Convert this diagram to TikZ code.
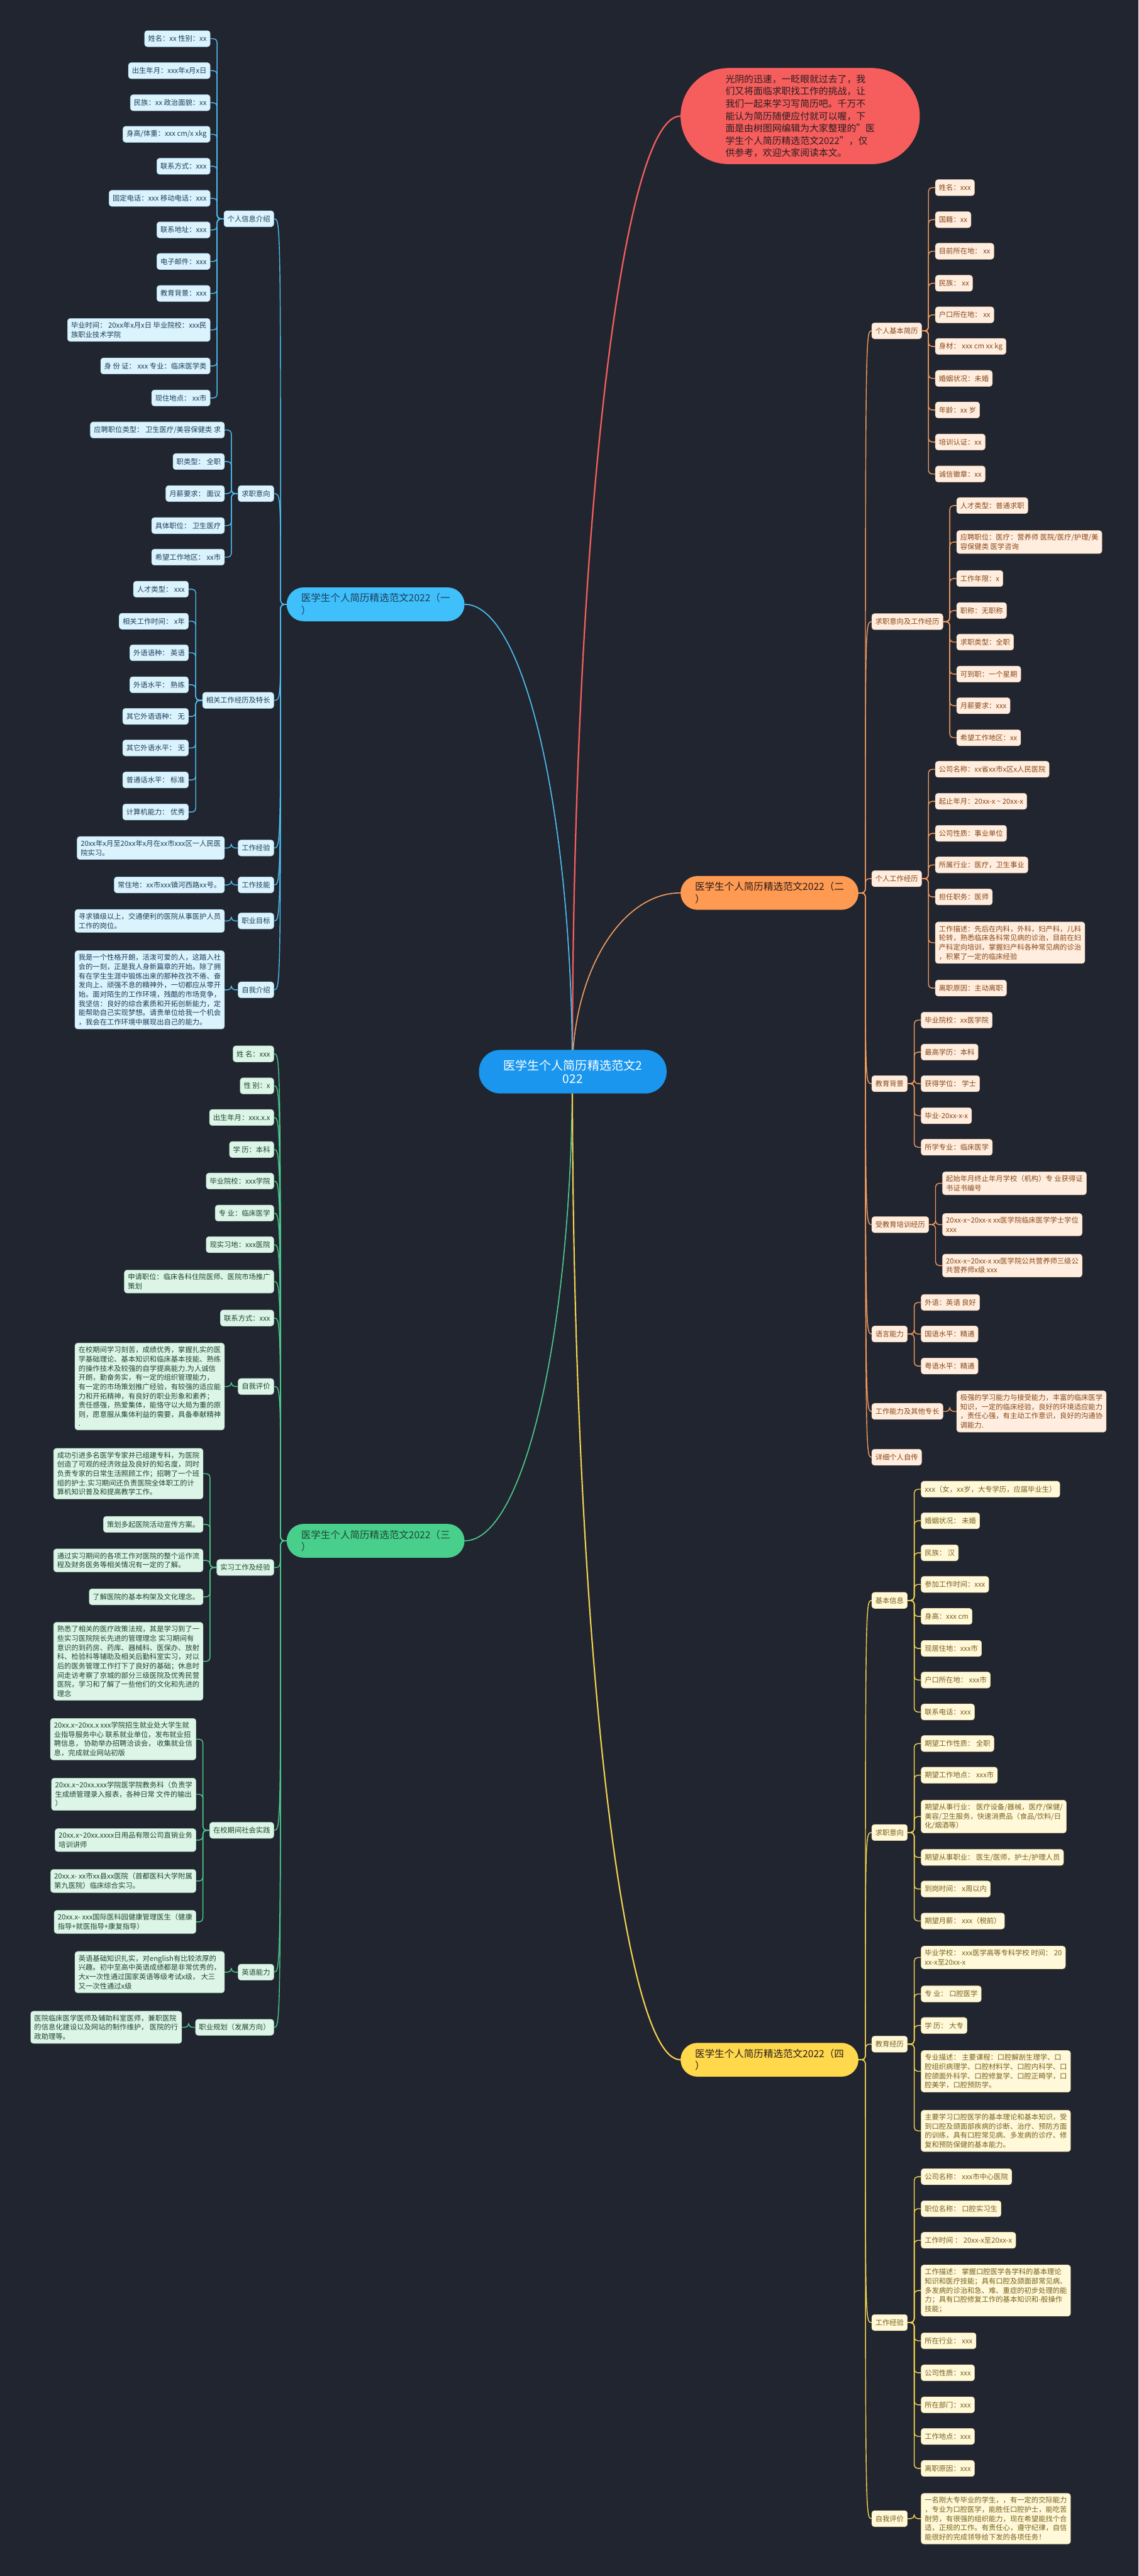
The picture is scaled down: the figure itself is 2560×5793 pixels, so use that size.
\documentclass[tikz,border=0pt]{standalone}
\usepackage{fontspec}
\setmainfont{Noto Sans CJK SC}
\usetikzlibrary{positioning}

\definecolor{bgnavy}{HTML}{21252F}
\definecolor{rootblue}{HTML}{1A96EF}
\definecolor{introred}{HTML}{F65E5E}
\definecolor{introtext}{HTML}{2A1C1C}
\definecolor{bluemain}{HTML}{3FC0FB}
\definecolor{blueline}{HTML}{4DBDF0}
\definecolor{bluefill}{HTML}{DBF3FD}
\definecolor{bluetext}{HTML}{1C3D5A}
\definecolor{greenmain}{HTML}{48CF8C}
\definecolor{greenline}{HTML}{4CC98C}
\definecolor{greenfill}{HTML}{DDF5E7}
\definecolor{greentext}{HTML}{1D4630}
\definecolor{orangemain}{HTML}{FF9A52}
\definecolor{orangeline}{HTML}{F29B5E}
\definecolor{orangefill}{HTML}{FFEEDF}
\definecolor{orangetext}{HTML}{8A4616}
\definecolor{yellowmain}{HTML}{FFD84B}
\definecolor{yellowline}{HTML}{F4D44E}
\definecolor{yellowfill}{HTML}{FFF8D9}
\definecolor{yellowtext}{HTML}{78621A}

\tikzset{
  leaf/.style={rounded corners=3pt, inner xsep=4pt, inner ysep=4pt,
    minimum height=18pt, align=left, line width=0.4pt,
    font=\fontsize{8}{10.35}\selectfont},
  bleaf/.style={leaf, fill=bluefill, draw=bluefill!70!blueline, text=bluetext},
  gleaf/.style={leaf, fill=greenfill, draw=greenfill!70!greenline, text=greentext},
  oleaf/.style={leaf, fill=orangefill, draw=orangefill!70!orangeline, text=orangetext},
  yleaf/.style={leaf, fill=yellowfill, draw=yellowfill!70!yellowline, text=yellowtext},
  branch/.style={rounded corners=19pt, minimum height=38pt, minimum width=200pt,
    align=left, font=\fontsize{11}{14}\selectfont},
  bline/.style={draw=blueline, line width=1pt, rounded corners=4pt},
  gline/.style={draw=greenline, line width=1pt, rounded corners=4pt},
  oline/.style={draw=orangeline, line width=1pt, rounded corners=4pt},
  yline/.style={draw=yellowline, line width=1pt, rounded corners=4pt},
}

% bracket from a topic to one of its leaves
\newcommand\hookl[3]{\draw[#1] (#2.west) -- ++(-15,0) |- (#3.east);}
\newcommand\hookr[3]{\draw[#1] (#2.east) -- ++(15,0) |- (#3.west);}
% curve from a branch to one of its topics
\newcommand\trunkl[4]{\draw[#1] (#2.west) -- (#3) .. controls (#3 |- #4.east) .. (#4.east);}
\newcommand\trunkr[4]{\draw[#1] (#2.east) -- (#3) .. controls (#3 |- #4.west) .. (#4.west);}

\begin{document}
\begin{tikzpicture}[x=0.5pt, y=-0.5pt]
  \fill[bgnavy] (0,0) rectangle (2560,5793);
  \useasboundingbox (0,0) rectangle (2560,5793);

  % intro bubble
  \node[rounded corners=54pt, minimum width=269pt, minimum height=108pt,
    fill=introred, text=introtext, align=left,
    font=\fontsize{10.5}{13.85}\selectfont, anchor=west] (intro) at (1530,261)
    {光阴的迅速，一眨眼就过去了，我\\们又将面临求职找工作的挑战，让\\我们一起来学习写简历吧。千万不\\能认为简历随便应付就可以喔，下\\面是由树图网编辑为大家整理的"医\\学生个人简历精选范文2022"，仅\\供参考，欢迎大家阅读本文。};

  % the four branches
  \node[branch, fill=bluemain, text=bluetext, anchor=east] (one) at (1045,1359) {医学生个人简历精选范文2022（一\\）};
  \node[branch, fill=orangemain, text=introtext, anchor=west] (two) at (1530,2008) {医学生个人简历精选范文2022（二\\）};
  \node[branch, fill=greenmain, text=greentext, anchor=east] (three) at (1045,3465) {医学生个人简历精选范文2022（三\\）};
  \node[branch, fill=yellowmain, text=introtext, anchor=west] (four) at (1530,4632) {医学生个人简历精选范文2022（四\\）};

  \coordinate (hub) at (1287,2410);
  \draw[introred, line width=1.6pt] (hub) .. controls (1287,1224) and (1396,261) .. (intro.west);
  \draw[blueline, line width=1.2pt] (hub) .. controls (1287,1830) and (1179,1359) .. (one.east);
  \draw[orangeline, line width=1.2pt] (hub) .. controls (1287,2188) and (1396,2008) .. (two.west);
  \draw[greenline, line width=1.2pt] (hub) .. controls (1287,2992) and (1179,3465) .. (three.east);
  \draw[yellowline, line width=1.5pt] (hub) .. controls (1287,3637) and (1396,4632) .. (four.west);

  \node[rounded corners=24pt, minimum width=211pt, minimum height=49pt,
    fill=rootblue, text=white, align=center,
    font=\fontsize{13.5}{14.5}\selectfont] (root) at (1288,2410) {医学生个人简历精选范文2\\022};

  % ---------- branch one ----------
  \coordinate (one-t) at (631,1359);
  \node[bleaf, anchor=east] (one-info) at (616,492) {个人信息介绍};
  \node[bleaf, anchor=east] (one-info-1) at (473,87) {姓名：xx 性别：xx};
  \node[bleaf, anchor=east] (one-info-2) at (473,159) {出生年月：xxx年x月x日};
  \node[bleaf, anchor=east] (one-info-3) at (473,231) {民族：xx 政治面貌：xx};
  \node[bleaf, anchor=east] (one-info-4) at (473,302) {身高/体重：xxx cm/x xkg};
  \node[bleaf, anchor=east] (one-info-5) at (473,374) {联系方式：xxx};
  \node[bleaf, anchor=east] (one-info-6) at (473,446) {固定电话：xxx 移动电话：xxx};
  \node[bleaf, anchor=east] (one-info-7) at (473,517) {联系地址：xxx};
  \node[bleaf, anchor=east] (one-info-8) at (473,588) {电子邮件：xxx};
  \node[bleaf, anchor=east] (one-info-9) at (473,660) {教育背景：xxx};
  \node[bleaf, anchor=east] (one-info-10) at (473,742) {毕业时间： 20xx年x月x日 毕业院校：xxx民\\族职业技术学院};
  \node[bleaf, anchor=east] (one-info-11) at (473,823) {身 份 证： xxx 专业：临床医学类};
  \node[bleaf, anchor=east] (one-info-12) at (473,895) {现住地点： xx市};
  \foreach \i in {1,...,12} {\hookl{bline}{one-info}{one-info-\i}}

  \node[bleaf, anchor=east] (one-job) at (616,1110) {求职意向};
  \node[bleaf, anchor=east] (one-job-1) at (505,967) {应聘职位类型： 卫生医疗/美容保健类 求};
  \node[bleaf, anchor=east] (one-job-2) at (505,1038) {职类型： 全职};
  \node[bleaf, anchor=east] (one-job-3) at (505,1110) {月薪要求： 面议};
  \node[bleaf, anchor=east] (one-job-4) at (505,1182) {具体职位： 卫生医疗};
  \node[bleaf, anchor=east] (one-job-5) at (505,1253) {希望工作地区： xx市};
  \foreach \i in {1,...,5} {\hookl{bline}{one-job}{one-job-\i}}

  \node[bleaf, anchor=east] (one-exp) at (616,1575) {相关工作经历及特长};
  \node[bleaf, anchor=east] (one-exp-1) at (424,1325) {人才类型： xxx};
  \node[bleaf, anchor=east] (one-exp-2) at (424,1397) {相关工作时间： x年};
  \node[bleaf, anchor=east] (one-exp-3) at (424,1468) {外语语种： 英语};
  \node[bleaf, anchor=east] (one-exp-4) at (424,1540) {外语水平： 熟练};
  \node[bleaf, anchor=east] (one-exp-5) at (424,1611) {其它外语语种： 无};
  \node[bleaf, anchor=east] (one-exp-6) at (424,1682) {其它外语水平： 无};
  \node[bleaf, anchor=east] (one-exp-7) at (424,1754) {普通话水平： 标准};
  \node[bleaf, anchor=east] (one-exp-8) at (424,1826) {计算机能力： 优秀};
  \foreach \i in {1,...,8} {\hookl{bline}{one-exp}{one-exp-\i}}

  \node[bleaf, anchor=east] (one-work) at (616,1907) {工作经验};
  \node[bleaf, anchor=east] (one-work-1) at (505,1907) {20xx年x月至20xx年x月在xx市xxx区一人民医\\院实习。};
  \hookl{bline}{one-work}{one-work-1}
  \node[bleaf, anchor=east] (one-skill) at (616,1990) {工作技能};
  \node[bleaf, anchor=east] (one-skill-1) at (505,1990) {常住地：xx市xxx镇河西路xx号。};
  \hookl{bline}{one-skill}{one-skill-1}
  \node[bleaf, anchor=east] (one-goal) at (616,2071) {职业目标};
  \node[bleaf, anchor=east] (one-goal-1) at (505,2071) {寻求镇级以上，交通便利的医院从事医护人员\\工作的岗位。};
  \hookl{bline}{one-goal}{one-goal-1}
  \node[bleaf, anchor=east] (one-self) at (616,2226) {自我介绍};
  \node[bleaf, anchor=east] (one-self-1) at (505,2226) {我是一个性格开朗，活泼可爱的人，这踏入社\\会的一刻，正是我人身新篇章的开始。除了拥\\有在学生生涯中锻炼出来的那种孜孜不倦、奋\\发向上、顽强不息的精神外，一切都应从零开\\始。面对陌生的工作环境，残酷的市场竞争，\\我坚信：良好的综合素质和开拓创新能力，定\\能帮助自己实现梦想。请贵单位给我一个机会\\，我会在工作环境中展现出自己的能力。};
  \hookl{bline}{one-self}{one-self-1}

  \foreach \c in {info,job,exp,work,skill,goal,self} {\trunkl{bline}{one}{one-t}{one-\c}}

  % ---------- branch two ----------
  \coordinate (two-t) at (1946,2008);
  \node[oleaf, anchor=west] (two-basic) at (1960,744) {个人基本简历};
  \node[oleaf, anchor=west] (two-basic-1) at (2103,422) {姓名：xxx};
  \node[oleaf, anchor=west] (two-basic-2) at (2103,494) {国籍：xx};
  \node[oleaf, anchor=west] (two-basic-3) at (2103,565) {目前所在地： xx};
  \node[oleaf, anchor=west] (two-basic-4) at (2103,637) {民族： xx};
  \node[oleaf, anchor=west] (two-basic-5) at (2103,708) {户口所在地： xx};
  \node[oleaf, anchor=west] (two-basic-6) at (2103,779) {身材： xxx cm xx kg};
  \node[oleaf, anchor=west] (two-basic-7) at (2103,851) {婚姻状况：未婚};
  \node[oleaf, anchor=west] (two-basic-8) at (2103,922) {年龄：xx 岁};
  \node[oleaf, anchor=west] (two-basic-9) at (2103,994) {培训认证：xx};
  \node[oleaf, anchor=west] (two-basic-10) at (2103,1066) {诚信徽章：xx};
  \foreach \i in {1,...,10} {\hookr{oline}{two-basic}{two-basic-\i}}

  \node[oleaf, anchor=west] (two-job) at (1960,1398) {求职意向及工作经历};
  \node[oleaf, anchor=west] (two-job-1) at (2151,1137) {人才类型：普通求职};
  \node[oleaf, anchor=west] (two-job-2) at (2151,1219) {应聘职位：医疗：营养师 医院/医疗/护理/美\\容保健类 医学咨询};
  \node[oleaf, anchor=west] (two-job-3) at (2151,1301) {工作年限：x};
  \node[oleaf, anchor=west] (two-job-4) at (2151,1373) {职称：无职称};
  \node[oleaf, anchor=west] (two-job-5) at (2151,1444) {求职类型：全职};
  \node[oleaf, anchor=west] (two-job-6) at (2151,1516) {可到职：一个星期};
  \node[oleaf, anchor=west] (two-job-7) at (2151,1587) {月薪要求：xxx};
  \node[oleaf, anchor=west] (two-job-8) at (2151,1659) {希望工作地区：xx};
  \foreach \i in {1,...,8} {\hookr{oline}{two-job}{two-job-\i}}

  \node[oleaf, anchor=west] (two-work) at (1960,1976) {个人工作经历};
  \node[oleaf, anchor=west] (two-work-1) at (2103,1730) {公司名称：xx省xx市x区x人民医院};
  \node[oleaf, anchor=west] (two-work-2) at (2103,1802) {起止年月：20xx-x \textasciitilde{} 20xx-x};
  \node[oleaf, anchor=west] (two-work-3) at (2103,1874) {公司性质：事业单位};
  \node[oleaf, anchor=west] (two-work-4) at (2103,1945) {所属行业：医疗，卫生事业};
  \node[oleaf, anchor=west] (two-work-5) at (2103,2017) {担任职务：医师};
  \node[oleaf, anchor=west] (two-work-6) at (2103,2120) {工作描述：先后在内科，外科，妇产科，儿科\\轮转，熟悉临床各科常见病的诊治，目前在妇\\产科定向培训，掌握妇产科各种常见病的诊治\\，积累了一定的临床经验};
  \node[oleaf, anchor=west] (two-work-7) at (2103,2222) {离职原因：主动离职};
  \foreach \i in {1,...,7} {\hookr{oline}{two-work}{two-work-\i}}

  \node[oleaf, anchor=west] (two-edu) at (1960,2437) {教育背景};
  \node[oleaf, anchor=west] (two-edu-1) at (2071,2294) {毕业院校：xx医学院};
  \node[oleaf, anchor=west] (two-edu-2) at (2071,2366) {最高学历：本科};
  \node[oleaf, anchor=west] (two-edu-3) at (2071,2437) {获得学位： 学士};
  \node[oleaf, anchor=west] (two-edu-4) at (2071,2509) {毕业-20xx-x-x};
  \node[oleaf, anchor=west] (two-edu-5) at (2071,2580) {所学专业：临床医学};
  \foreach \i in {1,...,5} {\hookr{oline}{two-edu}{two-edu-\i}}

  \node[oleaf, anchor=west] (two-train) at (1960,2754) {受教育培训经历};
  \node[oleaf, anchor=west] (two-train-1) at (2119,2661) {起始年月终止年月学校（机构）专 业获得证\\书证书编号};
  \node[oleaf, anchor=west] (two-train-2) at (2119,2754) {20xx-x\textasciitilde20xx-x xx医学院临床医学学士学位\\xxx};
  \node[oleaf, anchor=west] (two-train-3) at (2119,2846) {20xx-x\textasciitilde20xx-x xx医学院公共营养师三级公\\共营养师x级 xxx};
  \foreach \i in {1,...,3} {\hookr{oline}{two-train}{two-train-\i}}

  \node[oleaf, anchor=west] (two-lang) at (1960,3000) {语言能力};
  \node[oleaf, anchor=west] (two-lang-1) at (2071,2929) {外语：英语 良好};
  \node[oleaf, anchor=west] (two-lang-2) at (2071,3000) {国语水平：精通};
  \node[oleaf, anchor=west] (two-lang-3) at (2071,3072) {粤语水平：精通};
  \foreach \i in {1,...,3} {\hookr{oline}{two-lang}{two-lang-\i}}

  \node[oleaf, anchor=west] (two-ability) at (1960,3174) {工作能力及其他专长};
  \node[oleaf, anchor=west] (two-ability-1) at (2151,3174) {极强的学习能力与接受能力，丰富的临床医学\\知识，一定的临床经验，良好的环境适应能力\\，责任心强，有主动工作意识，良好的沟通协\\调能力.};
  \hookr{oline}{two-ability}{two-ability-1}

  \node[oleaf, anchor=west] (two-bio) at (1960,3277) {详细个人自传};

  \foreach \c in {basic,job,work,edu,train,lang,ability,bio} {\trunkr{oline}{two}{two-t}{two-\c}}

  % ---------- branch three ----------
  \coordinate (three-t) at (631,3465);
  \node[gleaf, anchor=east] (three-name) at (616,2370) {姓 名：xxx};
  \node[gleaf, anchor=east] (three-sex) at (616,2442) {性 别：x};
  \node[gleaf, anchor=east] (three-birth) at (616,2513) {出生年月：xxx.x.x};
  \node[gleaf, anchor=east] (three-degree) at (616,2585) {学 历：本科};
  \node[gleaf, anchor=east] (three-school) at (616,2656) {毕业院校：xxx学院};
  \node[gleaf, anchor=east] (three-major) at (616,2728) {专 业：临床医学};
  \node[gleaf, anchor=east] (three-place) at (616,2799) {现实习地：xxx医院};
  \node[gleaf, anchor=east] (three-apply) at (616,2882) {申请职位：临床各科住院医师、医院市场推广\\策划};
  \node[gleaf, anchor=east] (three-phone) at (616,2964) {联系方式：xxx};

  \node[gleaf, anchor=east] (three-self) at (616,3118) {自我评价};
  \node[gleaf, anchor=east] (three-self-1) at (505,3118) {在校期间学习刻苦，成绩优秀，掌握扎实的医\\学基础理论、基本知识和临床基本技能、熟练\\的操作技术及较强的自学提高能力.为人诚信\\开朗，勤奋务实，有一定的组织管理能力，\\有一定的市场策划推广经验，有较强的适应能\\力和开拓精神，有良好的职业形象和素养；\\责任感强，热爱集体，能恪守以大局为重的原\\则，愿意服从集体利益的需要，具备奉献精神\\.};
  \hookl{gline}{three-self}{three-self-1}

  \node[gleaf, anchor=east] (three-intern) at (616,3525) {实习工作及经验};
  \node[gleaf, anchor=east] (three-intern-1) at (457,3314) {成功引进多名医学专家并已组建专科，为医院\\创造了可观的经济效益及良好的知名度，同时\\负责专家的日常生活照顾工作；招聘了一个班\\组的护士.实习期间还负责医院全体职工的计\\算机知识普及和提高教学工作。};
  \node[gleaf, anchor=east] (three-intern-2) at (457,3428) {策划多起医院活动宣传方案。};
  \node[gleaf, anchor=east] (three-intern-3) at (457,3509) {通过实习期间的各项工作对医院的整个运作流\\程及财务医务等相关情况有一定的了解。};
  \node[gleaf, anchor=east] (three-intern-4) at (457,3591) {了解医院的基本构架及文化理念。};
  \node[gleaf, anchor=east] (three-intern-5) at (457,3736) {熟悉了相关的医疗政策法规，其是学习到了一\\些实习医院院长先进的管理理念 实习期间有\\意识的到药房、药库、器械科、医保办、放射\\科、检验科等辅助及相关后勤科室实习，对以\\后的医务管理工作打下了良好的基础；休息时\\间走访考察了京城的部分三级医院及优秀民营\\医院，学习和了解了一些他们的文化和先进的\\理念};
  \foreach \i in {1,...,5} {\hookl{gline}{three-intern}{three-intern-\i}}

  \node[gleaf, anchor=east] (three-campus) at (616,4116) {在校期间社会实践};
  \node[gleaf, anchor=east] (three-campus-1) at (441,3911) {20xx.x\textasciitilde20xx.x xxx学院招生就业处大学生就\\业指导服务中心 联系就业单位，发布就业招\\聘信息， 协助举办招聘洽谈会， 收集就业信\\息，完成就业网站初版};
  \node[gleaf, anchor=east] (three-campus-2) at (441,4035) {20xx.x\textasciitilde20xx.xxx学院医学院教务科（负责学\\生成绩管理录入报表，各种日常 文件的输出\\）};
  \node[gleaf, anchor=east] (three-campus-3) at (441,4138) {20xx.x\textasciitilde20xx.xxxx日用品有限公司直销业务\\培训讲师};
  \node[gleaf, anchor=east] (three-campus-4) at (441,4230) {20xx.x- xx市xx县xx医院（首都医科大学附属\\第九医院）临床综合实习。};
  \node[gleaf, anchor=east] (three-campus-5) at (441,4322) {20xx.x- xxx国际医科园健康管理医生（健康\\指导+就医指导+康复指导）};
  \foreach \i in {1,...,5} {\hookl{gline}{three-campus}{three-campus-\i}}

  \node[gleaf, anchor=east] (three-eng) at (616,4435) {英语能力};
  \node[gleaf, anchor=east] (three-eng-1) at (505,4435) {英语基础知识扎实，对english有比较浓厚的\\兴趣。初中至高中英语成绩都是非常优秀的，\\大x一次性通过国家英语等级考试x级， 大三\\又一次性通过x级};
  \hookl{gline}{three-eng}{three-eng-1}

  \node[gleaf, anchor=east] (three-plan) at (616,4559) {职业规划（发展方向）};
  \node[gleaf, anchor=east] (three-plan-1) at (409,4559) {医院临床医学医师及辅助科室医师，兼职医院\\的信息化建设以及网站的制作维护， 医院的行\\政助理等。};
  \hookl{gline}{three-plan}{three-plan-1}

  \foreach \c in {name,sex,birth,degree,school,major,place,apply,phone,self,intern,campus,eng,plan} {\trunkl{gline}{three}{three-t}{three-\c}}

  % ---------- branch four ----------
  \coordinate (four-t) at (1946,4632);
  \node[yleaf, anchor=west] (four-basic) at (1960,3599) {基本信息};
  \node[yleaf, anchor=west] (four-basic-1) at (2071,3349) {xxx（女，xx岁，大专学历，应届毕业生）};
  \node[yleaf, anchor=west] (four-basic-2) at (2071,3420) {婚姻状况： 未婚};
  \node[yleaf, anchor=west] (four-basic-3) at (2071,3492) {民族： 汉};
  \node[yleaf, anchor=west] (four-basic-4) at (2071,3563) {参加工作时间：xxx};
  \node[yleaf, anchor=west] (four-basic-5) at (2071,3635) {身高：xxx cm};
  \node[yleaf, anchor=west] (four-basic-6) at (2071,3707) {现居住地：xxx市};
  \node[yleaf, anchor=west] (four-basic-7) at (2071,3778) {户口所在地： xxx市};
  \node[yleaf, anchor=west] (four-basic-8) at (2071,3850) {联系电话：xxx};
  \foreach \i in {1,...,8} {\hookr{yline}{four-basic}{four-basic-\i}}

  \node[yleaf, anchor=west] (four-job) at (1960,4121) {求职意向};
  \node[yleaf, anchor=west] (four-job-1) at (2071,3921) {期望工作性质： 全职};
  \node[yleaf, anchor=west] (four-job-2) at (2071,3992) {期望工作地点： xxx市};
  \node[yleaf, anchor=west] (four-job-3) at (2071,4085) {期望从事行业： 医疗设备/器械，医疗/保健/\\美容/卫生服务，快速消费品（食品/饮料/日\\化/烟酒等）};
  \node[yleaf, anchor=west] (four-job-4) at (2071,4177) {期望从事职业： 医生/医师，护士/护理人员};
  \node[yleaf, anchor=west] (four-job-5) at (2071,4248) {到岗时间： x周以内};
  \node[yleaf, anchor=west] (four-job-6) at (2071,4320) {期望月薪： xxx（税前）};
  \foreach \i in {1,...,6} {\hookr{yline}{four-job}{four-job-\i}}

  \node[yleaf, anchor=west] (four-edu) at (1960,4597) {教育经历};
  \node[yleaf, anchor=west] (four-edu-1) at (2071,4402) {毕业学校： xxx医学高等专科学校 时间： 20\\xx-x至20xx-x};
  \node[yleaf, anchor=west] (four-edu-2) at (2071,4484) {专 业： 口腔医学};
  \node[yleaf, anchor=west] (four-edu-3) at (2071,4555) {学 历： 大专};
  \node[yleaf, anchor=west] (four-edu-4) at (2071,4658) {专业描述： 主要课程：口腔解剖生理学、口\\腔组织病理学、口腔材料学、口腔内科学、口\\腔颌面外科学、口腔修复学、口腔正畸学，口\\腔美学，口腔预防学。};
  \node[yleaf, anchor=west] (four-edu-5) at (2071,4792) {主要学习口腔医学的基本理论和基本知识，受\\到口腔及颌面部疾病的诊断、治疗、预防方面\\的训练，具有口腔常见病、多发病的诊疗、修\\复和预防保健的基本能力。};
  \foreach \i in {1,...,5} {\hookr{yline}{four-edu}{four-edu-\i}}

  \node[yleaf, anchor=west] (four-work) at (1960,5223) {工作经验};
  \node[yleaf, anchor=west] (four-work-1) at (2071,4895) {公司名称： xxx市中心医院};
  \node[yleaf, anchor=west] (four-work-2) at (2071,4967) {职位名称： 口腔实习生};
  \node[yleaf, anchor=west] (four-work-3) at (2071,5038) {工作时间 ： 20xx-x至20xx-x};
  \node[yleaf, anchor=west] (four-work-4) at (2071,5151) {工作描述： 掌握口腔医学各学科的基本理论\\知识和医疗技能；具有口腔及颌面部常见病、\\多发病的诊治和急、难、重症的初步处理的能\\力；具有口腔修复工作的基本知识和-般操作\\技能；};
  \node[yleaf, anchor=west] (four-work-5) at (2071,5264) {所在行业： xxx};
  \node[yleaf, anchor=west] (four-work-6) at (2071,5336) {公司性质：xxx};
  \node[yleaf, anchor=west] (four-work-7) at (2071,5408) {所在部门：xxx};
  \node[yleaf, anchor=west] (four-work-8) at (2071,5479) {工作地点：xxx};
  \node[yleaf, anchor=west] (four-work-9) at (2071,5551) {离职原因：xxx};
  \foreach \i in {1,...,9} {\hookr{yline}{four-work}{four-work-\i}}

  \node[yleaf, anchor=west] (four-self) at (1960,5664) {自我评价};
  \node[yleaf, anchor=west] (four-self-1) at (2071,5664) {一名刚大专毕业的学生，，有一定的交际能力\\，专业为口腔医学，能胜任口腔护士，能吃苦\\耐劳，有很强的组织能力，现在希望能找个合\\适，正规的工作。有责任心，遵守纪律，自信\\能很好的完成领导给下发的各项任务！};
  \hookr{yline}{four-self}{four-self-1}

  \foreach \c in {basic,job,edu,work,self} {\trunkr{yline}{four}{four-t}{four-\c}}
\end{tikzpicture}
\end{document}
